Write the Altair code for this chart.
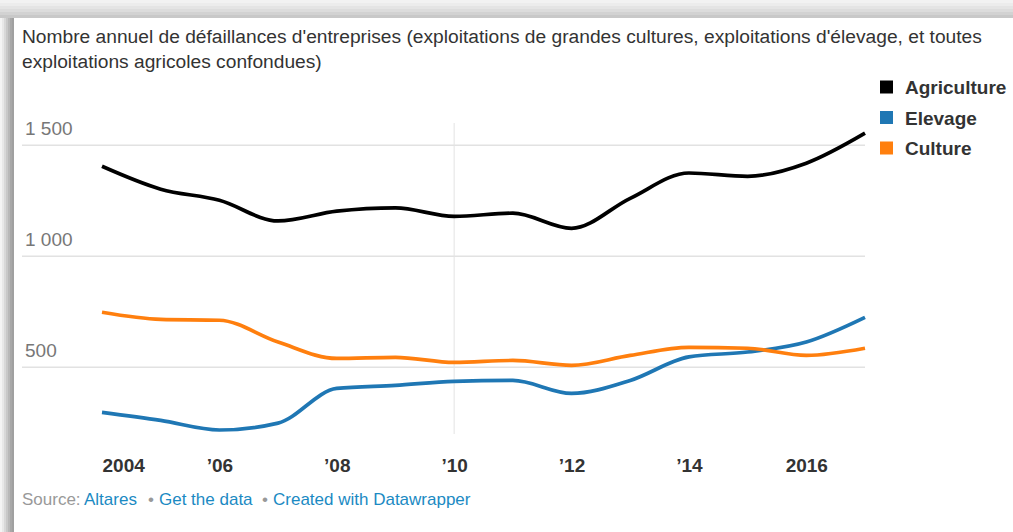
import altair as alt
import pandas as pd

# Annual business failures in agriculture, 2004-2017
years = list(range(2004, 2018))
agriculture = [1405, 1302, 1252, 1159, 1203, 1218, 1180, 1194, 1126, 1261, 1375, 1360, 1419, 1554]
elevage = [297, 261, 218, 249, 405, 419, 437, 441, 383, 441, 547, 569, 614, 725]
culture = [748, 716, 712, 614, 540, 545, 522, 531, 509, 554, 590, 586, 554, 586]

series_names = ["Agriculture", "Elevage", "Culture"]
series_colors = ["#000000", "#1f77b4", "#ff7f0e"]

tick_years = [2004, 2006, 2008, 2010, 2012, 2014, 2016]
tick_labels = ["2004", "\u201906", "\u201908", "\u201910", "\u201912", "\u201914", "2016"]

grid_values = [500, 1000, 1500]
grid_labels = ["500", "1 000", "1 500"]

title_lines = [
    "Nombre annuel de d\u00e9faillances d'entreprises (exploitations de grandes cultures, exploitations d'\u00e9levage, et toutes",
    "exploitations agricoles confondues)",
]

FONT = "Liberation Sans"
W, H = 843, 311
PAD_L, PAD_T = 22, 123

rows = []
for name, vals in zip(series_names, [agriculture, elevage, culture]):
    for yr, v in zip(years, vals):
        rows.append({"annee": yr, "valeur": v, "serie": name})
df = pd.DataFrame(rows)

xscale = alt.Scale(domain=[2004, 2017], range=[80, W], nice=False, zero=False)
yscale = alt.Scale(domain=[200, 1600], nice=False, zero=False)

label_expr = " : ".join(
    f"datum.value == {y} ? '{l}'" for y, l in zip(tick_years, tick_labels)
) + " : ''"
x_axis = alt.Axis(values=tick_years, labelExpr=label_expr, domain=False, ticks=False, grid=False,
                  labelFont=FONT, labelFontSize=19, labelFontWeight="bold", labelColor="#333333",
                  labelPadding=37, labelBaseline="alphabetic", title=None)

# page frame shading (left edge and top edge)
frame_layers = []
left_shades = ["#f4f4f4", "#e8e8e8", "#d8d8d8", "#c8c8c8", "#b8b8b8", "#a8a8a8", "#a0a0a0"]
for i, c in enumerate(left_shades):
    frame_layers.append(
        alt.Chart(pd.DataFrame({"k": [0]})).mark_rect(color=c).encode(
            x=alt.value(-PAD_L + 2 * i), x2=alt.value(-PAD_L + 2 * i + 2),
            y=alt.value(-PAD_T), y2=alt.value(H + 98),
        )
    )
top_shades = ["#f2f2f2", "#ececec", "#e4e4e4", "#dcdcdc", "#d2d2d2", "#c8c8c8"]
for i, c in enumerate(top_shades):
    frame_layers.append(
        alt.Chart(pd.DataFrame({"k": [0]})).mark_rect(color=c).encode(
            x=alt.value(-PAD_L), x2=alt.value(W + 148),
            y=alt.value(-PAD_T + 3 * i), y2=alt.value(-PAD_T + 3 * i + 3),
        )
    )

grid_df = pd.DataFrame({"v": grid_values, "lab": grid_labels})
grid = alt.Chart(grid_df).mark_rule(color="#e2e2e2", strokeWidth=1.5).encode(
    y=alt.Y("v:Q", scale=yscale, axis=None),
    x=alt.value(0), x2=alt.value(W),
)
grid_text = alt.Chart(grid_df).mark_text(
    align="left", baseline="alphabetic", dx=3, dy=-10, font=FONT, fontSize=19, color="#777777"
).encode(y=alt.Y("v:Q", scale=yscale, axis=None), x=alt.value(0), text="lab:N")

vrule = alt.Chart(pd.DataFrame({"annee": [2010]})).mark_rule(color="#e4e4e4", strokeWidth=1).encode(
    x=alt.X("annee:Q", scale=xscale, axis=x_axis), y=alt.value(0), y2=alt.value(H)
)

lines = alt.Chart(df).mark_line(strokeWidth=3.7, interpolate="monotone").encode(
    x=alt.X("annee:Q", scale=xscale, axis=x_axis),
    y=alt.Y("valeur:Q", scale=yscale, axis=None),
    color=alt.Color("serie:N", scale=alt.Scale(domain=series_names, range=series_colors), legend=None),
)

# legend: coloured squares with bold labels, one row per series
legend_layers = []
for i, (name, col) in enumerate(zip(series_names, series_colors)):
    ly = -36 + 30.5 * i
    legend_layers.append(
        alt.Chart(pd.DataFrame({"t": [name]})).mark_square(size=169, color=col, opacity=1).encode(
            x=alt.value(864.5), y=alt.value(ly)
        )
    )
    legend_layers.append(
        alt.Chart(pd.DataFrame({"t": [name]})).mark_text(
            align="left", baseline="middle", font=FONT, fontSize=19, fontWeight="bold", color="#333333"
        ).encode(text="t:N", x=alt.value(883), y=alt.value(ly + 1))
    )

title_layers = []
for i, line in enumerate(title_lines):
    title_layers.append(
        alt.Chart(pd.DataFrame({"t": [line]})).mark_text(
            align="left", baseline="alphabetic", font=FONT, fontSize=19.2, color="#333333"
        ).encode(text="t:N", x=alt.value(0), y=alt.value(-80 + 25 * i))
    )

source_parts = ["Source:", "Altares", "\u2022", "Get the data", "\u2022", "Created with Datawrapper"]
source_colors = ["#999999", "#1b8ac3", "#999999", "#1b8ac3", "#999999", "#1b8ac3"]
source_x = [0, 62, 126, 137, 240, 251]
source_layers = []
for txt, col, xo in zip(source_parts, source_colors, source_x):
    source_layers.append(
        alt.Chart(pd.DataFrame({"t": [txt]})).mark_text(
            align="left", baseline="alphabetic", font=FONT, fontSize=17, color=col
        ).encode(text="t:N", x=alt.value(xo), y=alt.value(H + 71))
    )

chart = alt.layer(
    *frame_layers, grid, grid_text, vrule, lines, *legend_layers, *title_layers, *source_layers
).properties(
    width=W, height=H,
    autosize=alt.AutoSizeParams(type="none"),
    padding={"left": PAD_L, "top": PAD_T, "right": 148, "bottom": 98},
    background="white",
).configure_view(stroke=None)

chart.save("out.html", embed_options={"renderer": "svg", "actions": False})
